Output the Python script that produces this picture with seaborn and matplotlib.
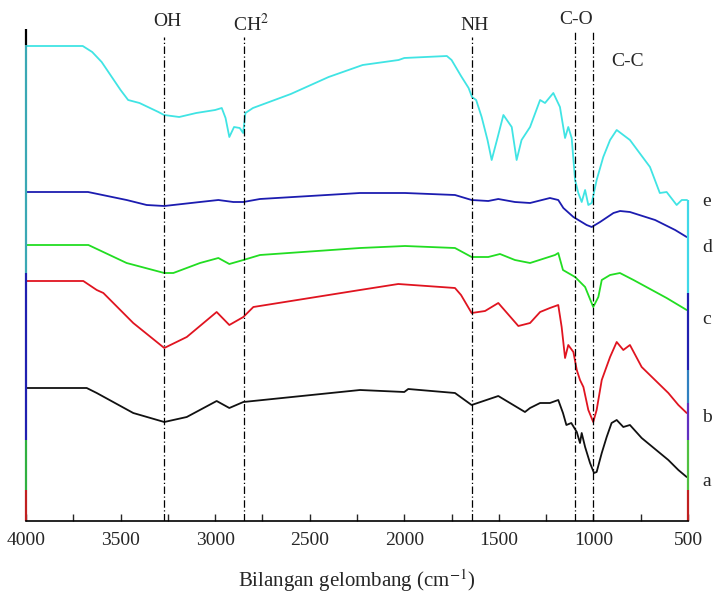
import matplotlib
matplotlib.use("Agg")
from matplotlib import pyplot as plt
import matplotlib.transforms as mtransforms
import seaborn as sb
import pandas as pd
import numpy as np

# data (wavenumber in cm-1, stacked transmittance in arbitrary units)
wn_e = [4000, 3700, 3650, 3600, 3500, 3460, 3400, 3300, 3270, 3190, 3100, 3000, 2965, 2945, 2925, 2900,
        2870, 2852, 2840, 2800, 2600, 2400, 2220, 2030, 2000, 1775, 1750, 1700, 1660, 1642, 1620, 1591,
        1560, 1538, 1510, 1476, 1432, 1406, 1380, 1335, 1282, 1256, 1212, 1177, 1150, 1133, 1115, 1097,
        1080, 1062, 1044, 1027, 1009, 983, 948, 912, 877, 807, 760, 701, 649, 613, 560, 533, 505]
t_e = [475, 475, 469, 459, 431, 421, 418, 409, 406, 404, 408, 411, 413, 403, 384, 394,
       393, 388, 408, 413, 427, 444, 456, 461, 463, 465, 461, 445, 433, 424, 421, 404,
       381, 361, 381, 406, 394, 361, 381, 394, 421, 418, 428, 414, 383, 394, 383, 341,
       328, 319, 331, 316, 318, 341, 364, 381, 391, 381, 369, 354, 328, 329, 316, 321, 321]

wn_d = [4000, 3672, 3468, 3362, 3269, 3080, 2983, 2904, 2851, 2763, 2234, 1996, 1732, 1644, 1556,
        1503, 1415, 1335, 1230, 1186, 1159, 1106, 1036, 1009, 965, 894, 859, 807, 674, 568, 507]
t_d = [329, 329, 321, 316, 315, 319, 321, 319, 319, 322, 328, 328, 326, 321, 320,
       322, 319, 318, 323, 321, 313, 304, 296, 294, 299, 308, 310, 309, 301, 291, 284]

wn_c = [4000, 3670, 3468, 3269, 3221, 3080, 2983, 2925, 2851, 2763, 2234, 1996, 1732, 1644, 1556,
        1494, 1415, 1335, 1203, 1186, 1161, 1097, 1044, 1001, 974, 956, 912, 860, 788, 613, 507]
t_c = [276, 276, 258, 248, 248, 258, 263, 257, 261, 266, 273, 275, 273, 264, 264,
       267, 261, 258, 266, 268, 251, 244, 234, 214, 224, 241, 246, 248, 241, 223, 211]

wn_b = [4000, 3697, 3626, 3591, 3433, 3269, 3150, 2992, 2925, 2851, 2798, 2234, 2032, 1732, 1700,
        1644, 1573, 1503, 1397, 1335, 1282, 1230, 1186, 1168, 1150, 1133, 1106, 1088, 1071, 1053,
        1027, 1001, 983, 956, 912, 877, 842, 807, 745, 604, 551, 507]
t_b = [240, 240, 231, 228, 198, 173, 184, 209, 196, 204, 214, 231, 237, 233, 226,
       208, 210, 218, 195, 198, 209, 213, 216, 194, 163, 176, 169, 151, 141, 134,
       111, 99, 111, 141, 164, 179, 171, 176, 154, 128, 116, 108]

wn_a = [4000, 3679, 3626, 3433, 3269, 3150, 2992, 2925, 2851, 2234, 2000, 1979, 1732, 1644, 1503,
        1362, 1335, 1282, 1230, 1186, 1161, 1143, 1117, 1088, 1071, 1062, 1044, 1018, 997, 983,
        956, 930, 904, 877, 842, 807, 745, 604, 551, 507]
t_a = [133, 133, 128, 108, 99, 104, 120, 113, 119, 131, 129, 132, 128, 116, 125,
       109, 113, 118, 118, 121, 108, 96, 98, 89, 78, 88, 74, 58, 48, 49,
       68, 84, 98, 101, 94, 96, 83, 61, 51, 44]

samples = ["a", "b", "c", "d", "e"]
colors = ["#111111", "#e01420", "#22dd22", "#1c1cb0", "#40e4e4"]
label_t = [39, 104, 202, 274, 319]

band_wn = [3270, 2850, 1640, 1100, 1000]

frames = []
for s, w, t in zip(samples, [wn_a, wn_b, wn_c, wn_d, wn_e], [t_a, t_b, t_c, t_d, t_e]):
    frames.append(pd.DataFrame({"wn": w, "T": t, "sample": s}))
df = pd.concat(frames, ignore_index=True)

sb.set_style("white")
plt.rcParams["font.family"] = ["Liberation Serif", "DejaVu Serif"]
plt.rcParams["mathtext.fontset"] = "stix"

fig = plt.figure(figsize=(7.15, 6.0), dpi=100)
ax = fig.add_axes([26 / 715, 79 / 600, 662 / 715, 492 / 600])

sb.lineplot(data=df, x="wn", y="T", hue="sample", palette=dict(zip(samples, colors)),
            estimator=None, sort=False, linewidth=1.3, legend=False, ax=ax)

ax.set_xlim(4000, 500)
ax.set_ylim(0, 492)

# marker lines for the functional groups
for w in band_wn:
    top = 489 if w in (1100, 1000) else 484
    ax.plot([w, w], [0, top], color="black", linestyle="-.", linewidth=0.9, dashes=(6, 2, 1, 2))

ax.text(3250, 500, "OH", fontsize=14, ha="center", va="center", clip_on=False)
ax.text(2810, 497, "CH$^{2}$", fontsize=14, ha="center", va="center", clip_on=False)
ax.text(1630, 496, "NH", fontsize=14, ha="center", va="center", clip_on=False)
ax.text(1090, 501, "C-O", fontsize=14, ha="center", va="center", clip_on=False)
ax.text(820, 459, "C-C", fontsize=14, ha="center", va="center")

for s, t in zip(samples, label_t):
    ax.text(400, t, s, fontsize=14, ha="center", va="center", clip_on=False)

# stacked-axis look: coloured pieces on the left and right edge
for sp in ["left", "right", "top"]:
    ax.spines[sp].set_visible(False)
ax.spines["bottom"].set_color("black")
ax.spines["bottom"].set_linewidth(1.2)

trans = mtransforms.blended_transform_factory(ax.transAxes, ax.transData)
left_parts = [(476, 492, "black"), (248, 476, "#3aa8b4"), (81, 248, "#2020b0"),
              (31, 81, "#30b040"), (0, 31, "#c02020")]
right_parts = [(228, 321, "#40d8e8"), (151, 228, "#2020b0"), (118, 151, "#3080c0"),
               (81, 118, "#6030c0"), (31, 81, "#50c040"), (0, 31, "#c02020")]
for lo, hi, c in left_parts:
    ax.plot([0, 0], [lo, hi], color=c, linewidth=1.6, transform=trans, clip_on=False, solid_capstyle="butt")
for lo, hi, c in right_parts:
    ax.plot([1, 1], [lo, hi], color=c, linewidth=1.6, transform=trans, clip_on=False, solid_capstyle="butt")

ax.set_xticks(np.arange(4000, 499, -500))
ax.set_xticks(np.arange(3750, 500, -500), minor=True)
ax.tick_params(axis="x", which="both", direction="in", length=5, width=1, bottom=True,
               labelsize=14, pad=8)
ax.set_yticks([])
ax.set_xlabel("Bilangan gelombang (cm$^{-1}$)", fontsize=15, labelpad=13)
ax.set_ylabel("")

fig.savefig("out.png", dpi=100)
